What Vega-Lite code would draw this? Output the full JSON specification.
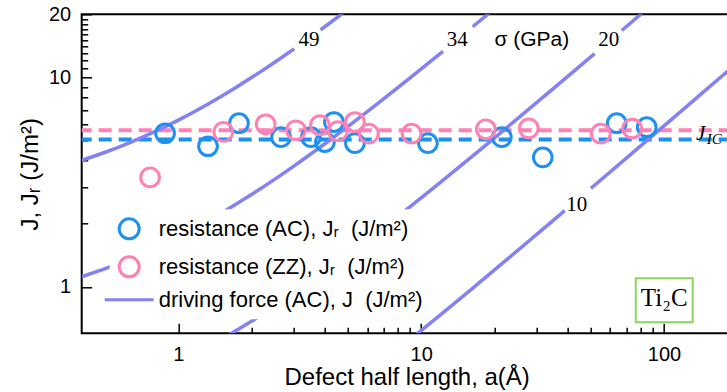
{
  "$schema": "https://vega.github.io/schema/vega-lite/v6.json",
  "width": 650,
  "height": 319,
  "autosize": {"type": "none"},
  "padding": {"left": 81.7, "top": 14.3, "right": 0, "bottom": 58.7},
  "background": "white",
  "config": {
    "view": {"stroke": "black", "strokeWidth": 2},
    "axis": {
      "domain": false, "grid": false,
      "labelFont": "Liberation Sans", "labelFontSize": 20, "labelColor": "black",
      "tickColor": "black", "tickWidth": 1.5,
      "titleFont": "Liberation Sans", "titleFontSize": 24, "titleFontWeight": "normal", "titleColor": "black",
      "labelFlush": false
    }
  },
  "resolve": {"axis": {"x": "independent", "y": "independent"}},
  "layer": [
    {
      "data": {"values": [{"series": "AC", "J": 5.05}, {"series": "ZZ", "J": 5.59}]},
      "mark": {"type": "rule", "strokeDash": [13, 7], "strokeWidth": 4},
      "encoding": {
        "y": {"field": "J", "type": "quantitative",
          "scale": {"type": "log", "domain": [0.6, 20], "nice": false},
          "axis": {"orient": "left", "values": [2, 3, 4, 5, 6, 7, 8, 9, 11, 12, 13, 14, 15, 16, 17, 18, 19], "labels": false, "tickSize": -6, "title": null}},
        "color": {"field": "series", "type": "nominal",
          "scale": {"domain": ["AC", "ZZ", "DF"], "range": ["#1e90f0", "#ff80b4", "#8282f2"]}}
      }
    },
    {
      "data": {"values": [
        {"series": "DF", "seg": "49a", "a": 0.4, "J": 4.018},
        {"series": "DF", "seg": "49a", "a": 0.5, "J": 4.39},
        {"series": "DF", "seg": "49a", "a": 0.6, "J": 4.762},
        {"series": "DF", "seg": "49a", "a": 0.8, "J": 5.506},
        {"series": "DF", "seg": "49a", "a": 1.0, "J": 6.25},
        {"series": "DF", "seg": "49a", "a": 1.3, "J": 7.366},
        {"series": "DF", "seg": "49a", "a": 1.7, "J": 8.854},
        {"series": "DF", "seg": "49a", "a": 2.2, "J": 10.71},
        {"series": "DF", "seg": "49a", "a": 2.6, "J": 12.2},
        {"series": "DF", "seg": "49a", "a": 3.0, "J": 13.69},
        {"series": "DF", "seg": "49b", "a": 3.85, "J": 16.85},
        {"series": "DF", "seg": "49b", "a": 4.3, "J": 18.53},
        {"series": "DF", "seg": "49b", "a": 4.75, "J": 20.2},
        {"series": "DF", "seg": "34a", "a": 0.4, "J": 1.117},
        {"series": "DF", "seg": "34a", "a": 0.6, "J": 1.322},
        {"series": "DF", "seg": "34a", "a": 0.8, "J": 1.527},
        {"series": "DF", "seg": "34a", "a": 1.0, "J": 1.732},
        {"series": "DF", "seg": "34a", "a": 1.5, "J": 2.245},
        {"series": "DF", "seg": "34a", "a": 2.0, "J": 2.757},
        {"series": "DF", "seg": "34a", "a": 3.0, "J": 3.782},
        {"series": "DF", "seg": "34a", "a": 4.0, "J": 4.807},
        {"series": "DF", "seg": "34a", "a": 6.0, "J": 6.857},
        {"series": "DF", "seg": "34a", "a": 9.0, "J": 9.932},
        {"series": "DF", "seg": "34a", "a": 12.3, "J": 13.31},
        {"series": "DF", "seg": "34b", "a": 16.3, "J": 17.44},
        {"series": "DF", "seg": "34b", "a": 19.0, "J": 20.18},
        {"series": "DF", "seg": "20a", "a": 1.6, "J": 0.586},
        {"series": "DF", "seg": "20a", "a": 2.0, "J": 0.685},
        {"series": "DF", "seg": "20a", "a": 3.0, "J": 0.932},
        {"series": "DF", "seg": "20a", "a": 5.0, "J": 1.426},
        {"series": "DF", "seg": "20a", "a": 8.0, "J": 2.167},
        {"series": "DF", "seg": "20a", "a": 12, "J": 3.155},
        {"series": "DF", "seg": "20a", "a": 18, "J": 4.637},
        {"series": "DF", "seg": "20a", "a": 25, "J": 6.366},
        {"series": "DF", "seg": "20a", "a": 35, "J": 8.836},
        {"series": "DF", "seg": "20a", "a": 51.8, "J": 12.99},
        {"series": "DF", "seg": "20b", "a": 67, "J": 16.74},
        {"series": "DF", "seg": "20b", "a": 81, "J": 20.2},
        {"series": "DF", "seg": "10a", "a": 9.6, "J": 0.595},
        {"series": "DF", "seg": "10a", "a": 12, "J": 0.735},
        {"series": "DF", "seg": "10a", "a": 16, "J": 0.968},
        {"series": "DF", "seg": "10a", "a": 22, "J": 1.318},
        {"series": "DF", "seg": "10a", "a": 30, "J": 1.785},
        {"series": "DF", "seg": "10a", "a": 39, "J": 2.309},
        {"series": "DF", "seg": "10b", "a": 50, "J": 2.95},
        {"series": "DF", "seg": "10b", "a": 70, "J": 4.117},
        {"series": "DF", "seg": "10b", "a": 100, "J": 5.866},
        {"series": "DF", "seg": "10b", "a": 140, "J": 8.198},
        {"series": "DF", "seg": "10b", "a": 190, "J": 11.11}
      ]},
      "mark": {"type": "line", "strokeWidth": 3.5, "clip": true, "interpolate": "monotone"},
      "encoding": {
        "x": {"field": "a", "type": "quantitative",
          "scale": {"type": "log", "domain": [0.4, 190], "nice": false},
          "axis": {"orient": "bottom", "values": [2, 3, 4, 5, 6, 7, 8, 9, 20, 30, 40, 50, 60, 70, 80, 90], "labels": false, "tickSize": -6, "title": null}},
        "y": {"field": "J", "type": "quantitative",
          "scale": {"type": "log", "domain": [0.6, 20], "nice": false}, "axis": null},
        "detail": {"field": "seg", "type": "nominal"},
        "color": {"field": "series", "type": "nominal",
          "scale": {"domain": ["AC", "ZZ", "DF"], "range": ["#1e90f0", "#ff80b4", "#8282f2"]}}
      }
    },
    {
      "data": {"values": [
        {"series": "AC", "a": 0.882, "J": 5.41},
        {"series": "AC", "a": 1.325, "J": 4.69},
        {"series": "AC", "a": 1.777, "J": 6.04},
        {"series": "AC", "a": 2.647, "J": 5.18},
        {"series": "AC", "a": 3.516, "J": 5.18},
        {"series": "AC", "a": 4.016, "J": 4.91},
        {"series": "AC", "a": 4.373, "J": 6.12},
        {"series": "AC", "a": 5.336, "J": 4.85},
        {"series": "AC", "a": 10.66, "J": 4.85},
        {"series": "AC", "a": 21.48, "J": 5.18},
        {"series": "AC", "a": 31.68, "J": 4.15},
        {"series": "AC", "a": 63.87, "J": 6.04},
        {"series": "AC", "a": 84.9, "J": 5.78},
        {"series": "ZZ", "a": 0.765, "J": 3.33},
        {"series": "ZZ", "a": 1.532, "J": 5.49},
        {"series": "ZZ", "a": 2.289, "J": 5.97},
        {"series": "ZZ", "a": 3.051, "J": 5.59},
        {"series": "ZZ", "a": 3.83, "J": 5.91},
        {"series": "ZZ", "a": 4.542, "J": 5.54},
        {"series": "ZZ", "a": 5.336, "J": 6.12},
        {"series": "ZZ", "a": 6.09, "J": 5.39},
        {"series": "ZZ", "a": 9.13, "J": 5.39},
        {"series": "ZZ", "a": 18.46, "J": 5.65},
        {"series": "ZZ", "a": 27.75, "J": 5.71},
        {"series": "ZZ", "a": 54.9, "J": 5.39},
        {"series": "ZZ", "a": 73.97, "J": 5.7}
      ]},
      "mark": {"type": "point", "filled": false, "strokeWidth": 3, "size": 350, "opacity": 1},
      "encoding": {
        "x": {"field": "a", "type": "quantitative",
          "scale": {"type": "log", "domain": [0.4, 190], "nice": false},
          "axis": {"orient": "bottom", "values": [1, 10, 100], "format": "d", "tickSize": -10, "labelPadding": 21, "title": "Defect half length, a(Å)", "titlePadding": 1, "titleFontSize": 24}},
        "y": {"field": "J", "type": "quantitative",
          "scale": {"type": "log", "domain": [0.6, 20], "nice": false},
          "axis": {"orient": "left", "values": [1, 10, 20], "format": "d", "tickSize": -10, "labelPadding": 21, "title": "J, Jᵣ (J/m²)", "titlePadding": 6, "titleFontSize": 24}},
        "color": {"field": "series", "type": "nominal",
          "scale": {"domain": ["AC", "ZZ", "DF"], "range": ["#1e90f0", "#ff80b4", "#8282f2"]},
          "legend": {
            "orient": "none", "legendX": 28, "legendY": 195, "title": null,
            "fillColor": "white", "padding": 8,
            "labelFont": "Liberation Sans", "labelFontSize": 22, "labelColor": "black", "labelLimit": 400,
            "labelOffset": 18, "rowPadding": 5, "symbolSize": 400, "symbolStrokeWidth": 3,
            "labelExpr": "datum.value === 'AC' ? 'resistance (AC), Jᵣ\u00a0 (J/m²)' : datum.value === 'ZZ' ? 'resistance (ZZ), Jᵣ\u00a0 (J/m²)' : 'driving force (AC), J\u00a0 (J/m²)'"
          }},
        "shape": {"field": "series", "type": "nominal",
          "scale": {"domain": ["AC", "ZZ", "DF"], "range": ["circle", "circle", "M-2.45,0H2.45"]},
          "legend": {
            "orient": "none", "legendX": 28, "legendY": 195, "title": null,
            "fillColor": "white", "padding": 8,
            "labelFont": "Liberation Sans", "labelFontSize": 22, "labelColor": "black", "labelLimit": 400,
            "labelOffset": 18, "rowPadding": 5, "symbolSize": 400, "symbolStrokeWidth": 3,
            "labelExpr": "datum.value === 'AC' ? 'resistance (AC), Jᵣ\u00a0 (J/m²)' : datum.value === 'ZZ' ? 'resistance (ZZ), Jᵣ\u00a0 (J/m²)' : 'driving force (AC), J\u00a0 (J/m²)'"
          }}
      }
    },
    {
      "data": {"values": [
        {"label": "49", "a": 3.45, "J": 15.12},
        {"label": "34", "a": 14.09, "J": 15.12},
        {"label": "20", "a": 59.2, "J": 15.12},
        {"label": "10", "a": 43.72, "J": 2.464}
      ]},
      "mark": {"type": "text", "font": "Liberation Serif", "fontSize": 21, "color": "black", "align": "center", "baseline": "middle"},
      "encoding": {
        "x": {"field": "a", "type": "quantitative", "scale": {"type": "log", "domain": [0.4, 190], "nice": false}, "axis": null},
        "y": {"field": "J", "type": "quantitative", "scale": {"type": "log", "domain": [0.6, 20], "nice": false}, "axis": null},
        "text": {"field": "label"}
      }
    },
    {
      "data": {"values": [{"label": "σ (GPa)", "a": 28.55, "J": 15.0}]},
      "mark": {"type": "text", "font": "Liberation Sans", "fontSize": 21, "color": "black", "align": "center", "baseline": "middle"},
      "encoding": {
        "x": {"field": "a", "type": "quantitative", "scale": {"type": "log", "domain": [0.4, 190], "nice": false}, "axis": null},
        "y": {"field": "J", "type": "quantitative", "scale": {"type": "log", "domain": [0.6, 20], "nice": false}, "axis": null},
        "text": {"field": "label"}
      }
    },
    {
      "data": {"values": [{"label": "J", "a": 141.6, "J": 5.35}]},
      "mark": {"type": "text", "font": "Liberation Serif", "fontStyle": "italic", "fontSize": 21, "color": "black", "align": "center", "baseline": "middle"},
      "encoding": {
        "x": {"field": "a", "type": "quantitative", "scale": {"type": "log", "domain": [0.4, 190], "nice": false}, "axis": null},
        "y": {"field": "J", "type": "quantitative", "scale": {"type": "log", "domain": [0.6, 20], "nice": false}, "axis": null},
        "text": {"field": "label"}
      }
    },
    {
      "data": {"values": [{"label": "IC", "a": 149.9, "J": 5.06}]},
      "mark": {"type": "text", "font": "Liberation Serif", "fontStyle": "italic", "fontSize": 15, "color": "black", "align": "left", "baseline": "middle"},
      "encoding": {
        "x": {"field": "a", "type": "quantitative", "scale": {"type": "log", "domain": [0.4, 190], "nice": false}, "axis": null},
        "y": {"field": "J", "type": "quantitative", "scale": {"type": "log", "domain": [0.6, 20], "nice": false}, "axis": null},
        "text": {"field": "label"}
      }
    },
    {
      "data": {"values": [{"a": 76.5, "a2": 131.3, "J": 0.677, "J2": 1.098}]},
      "mark": {"type": "rect", "fill": null, "fillOpacity": 0, "stroke": "#8fd35f", "strokeWidth": 2},
      "encoding": {
        "x": {"field": "a", "type": "quantitative", "scale": {"type": "log", "domain": [0.4, 190], "nice": false}, "axis": null},
        "x2": {"field": "a2"},
        "y": {"field": "J", "type": "quantitative", "scale": {"type": "log", "domain": [0.6, 20], "nice": false}, "axis": null},
        "y2": {"field": "J2"}
      }
    },
    {
      "data": {"values": [{"label": "Ti₂C", "a": 100.2, "J": 0.881}]},
      "mark": {"type": "text", "font": "Liberation Serif", "fontSize": 25, "color": "black", "align": "center", "baseline": "middle"},
      "encoding": {
        "x": {"field": "a", "type": "quantitative", "scale": {"type": "log", "domain": [0.4, 190], "nice": false}, "axis": null},
        "y": {"field": "J", "type": "quantitative", "scale": {"type": "log", "domain": [0.6, 20], "nice": false}, "axis": null},
        "text": {"field": "label"}
      }
    }
  ]
}
